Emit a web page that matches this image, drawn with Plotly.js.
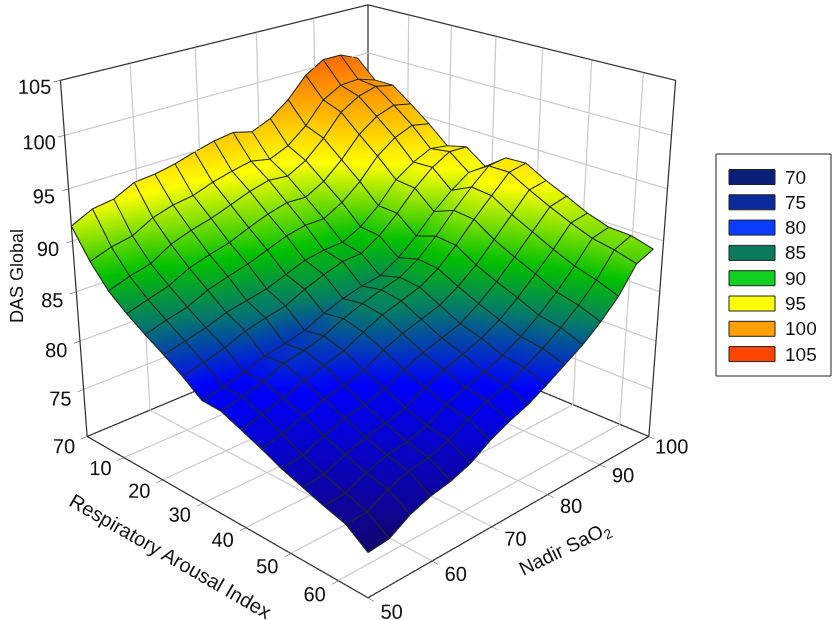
<!DOCTYPE html>
<html><head><meta charset="utf-8">
<script src="https://cdn.plot.ly/plotly-3.0.1.min.js"></script>
<style>html,body{margin:0;padding:0;background:#fff;overflow:hidden;width:832px;height:620px}
#wrap{position:relative;width:832px;height:620px;overflow:hidden}
#chart{position:absolute;left:0;top:-421px}</style></head>
<body><div id="wrap"><div id="chart"></div></div>
<script>
const nadirSaO2 = [50,53.2,56.4,59.6,62.8,66,69.2,72.4,75.6,78.8,82,85.2,88.4,91.6,94.8,98];
const arousalIndex = [0,4.4,8.8,13.2,17.6,22,26.4,30.8,35.2,39.6,44,48.4,52.8,57.2,61.6,66];
const dasGlobal = [
[91.4,92.4,92.7,93.7,93.9,94.3,94.9,95.4,95.7,95.2,96.0,97.4,99.4,100.5,100.5,99.7],
[88.7,89.4,89.8,90.9,91.5,91.8,92.5,93.0,93.4,93.0,93.8,95.3,97.4,98.4,98.5,97.9],
[86.6,87.3,87.8,89.0,89.7,90.2,90.9,91.6,92.1,91.9,92.9,94.6,96.7,97.8,98.3,97.9],
[85.2,85.8,86.4,87.4,88.0,88.5,89.3,90.0,90.5,90.4,91.4,93.0,95.0,96.3,96.9,96.5],
[84.0,84.6,85.1,86.0,86.6,87.1,87.8,88.5,88.9,88.9,89.9,91.4,93.4,94.7,95.4,95.0],
[82.9,83.4,83.9,84.6,85.0,85.4,86.1,86.8,87.1,87.2,88.1,89.6,91.6,92.8,93.6,93.3],
[81.7,82.2,82.8,83.6,84.1,84.5,85.4,86.1,86.7,86.8,87.9,89.5,91.4,92.9,93.9,93.8],
[80.3,80.7,81.3,82.0,82.4,82.9,83.8,84.5,85.0,85.3,86.4,87.9,89.7,91.2,92.4,92.4],
[80.2,80.7,81.3,82.2,82.6,83.2,84.1,84.8,85.4,85.9,87.0,88.6,90.5,92.2,93.7,93.9],
[79.4,79.9,80.6,81.4,82.0,82.6,83.6,84.5,85.1,85.7,86.8,88.4,90.3,92.0,93.7,94.0],
[78.6,79.0,79.8,80.5,81.0,81.6,82.7,83.5,84.1,84.7,85.8,87.2,89.0,90.8,92.6,92.9],
[77.7,78.0,78.9,79.7,80.0,80.7,81.7,82.5,83.1,83.7,84.9,86.3,88.0,89.8,91.6,92.0],
[77.0,77.2,78.1,78.8,79.2,79.8,80.9,81.7,82.4,83.1,84.1,85.5,87.1,88.8,90.7,91.0],
[76.3,76.5,77.4,78.1,78.4,79.0,80.1,80.9,81.5,82.3,83.3,84.6,86.1,87.9,89.9,90.3],
[75.7,75.8,76.9,77.6,77.9,78.6,79.7,80.5,81.1,82.0,83.0,84.2,85.6,87.3,89.5,90.2],
[74.2,74.4,75.6,76.3,76.7,77.4,78.6,79.5,80.2,81.2,82.3,83.4,84.8,86.5,88.9,89.6]
];
const legendLabels = ['70','75','80','85','90','95','100','105'];
const legendColors = ['#0a1f78','#0a2a9c','#0a3cff','#0a7a5a','#10d020','#ffff00','#ff9f00','#ff4500'];
const colorStops = [[0,'#14055e'],[0.114,'#14056e'],[0.314,'#0000ff'],[0.414,'#057a6a'],[0.5,'#00c000'],[0.65,'#ffff00'],[0.8,'#ff9900'],[0.93,'#ff4800'],[1,'#ff3000']];
const nadirTicks = [50,60,70,80,90,100];
const arousalTicks = [10,20,30,40,50,60];
const dasTicks = [70,75,80,85,90,95,100,105];
const xR=[50,100], yR=[0,66], zR=[70,105];
const H=1375, TOP=421;
const px=x=>x/832, py=y=>1-(y+TOP)/H;

const surface = {
  type:'surface', x:nadirSaO2, y:arousalIndex, z:dasGlobal,
  cmin:70, cmax:105, colorscale:colorStops, showscale:false,
  lighting:{ambient:1,diffuse:0,specular:0,roughness:1,fresnel:0},
  hoverinfo:'skip'
};
const wx=[],wy=[],wz=[];
arousalIndex.forEach((a,i)=>{nadirSaO2.forEach((n,j)=>{wx.push(n);wy.push(a);wz.push(dasGlobal[i][j]+0.04);});wx.push(null);wy.push(null);wz.push(null);});
nadirSaO2.forEach((n,j)=>{arousalIndex.forEach((a,i)=>{wx.push(n);wy.push(a);wz.push(dasGlobal[i][j]+0.04);});wx.push(null);wy.push(null);wz.push(null);});
const wire={type:'scatter3d',mode:'lines',hoverinfo:'skip',showlegend:false,x:wx,y:wy,z:wz,line:{color:'#20281a',width:2.2}};
const gx=[],gy=[],gz=[];
function seg(a,b){gx.push(a[0],b[0],null);gy.push(a[1],b[1],null);gz.push(a[2],b[2],null);}
nadirTicks.slice(1,-1).forEach(n=>{seg([n,yR[0],zR[0]],[n,yR[0],zR[1]]);seg([n,yR[0],zR[0]],[n,yR[1],zR[0]]);});
arousalTicks.forEach(a=>{seg([xR[1],a,zR[0]],[xR[1],a,zR[1]]);seg([xR[0],a,zR[0]],[xR[1],a,zR[0]]);});
dasTicks.slice(1,-1).forEach(z=>{seg([xR[0],yR[0],z],[xR[1],yR[0],z]);seg([xR[1],yR[0],z],[xR[1],yR[1],z]);});
const grid={type:'scatter3d',mode:'lines',hoverinfo:'skip',showlegend:false,x:gx,y:gy,z:gz,line:{color:'#cccccc',width:2.5}};
const box = {
  type:'scatter3d', mode:'lines', hoverinfo:'skip', showlegend:false,
  x:[xR[0],xR[0],xR[1],xR[1],xR[0],null,xR[0],xR[0],xR[1],xR[1],xR[1],null,xR[1],xR[1]],
  y:[yR[0],yR[1],yR[1],yR[0],yR[0],null,yR[0],yR[0],yR[0],yR[1],yR[1],null,yR[0],yR[0]],
  z:[zR[0],zR[0],zR[0],zR[0],zR[0],null,zR[0],zR[1],zR[1],zR[1],zR[0],null,zR[0],zR[1]],
  line:{color:'#333',width:2.5}
};
const fam='Liberation Sans, Arial, sans-serif';
const tickFont={family:fam,size:15.5,color:'#111'};
const textFont={family:fam,size:19,color:'#111'};
function ax(range,vals){return {
  title:{text:''},
  range:range,tickmode:'array',tickvals:vals,ticktext:vals.map(String),tickfont:tickFont,tickangle:0,
  showgrid:false,showbackground:false,showline:false,zeroline:false,
  ticks:'outside',ticklen:6,tickcolor:'#333',showspikes:false};}
const shapes=[{type:'rect',xref:'paper',yref:'paper',x0:px(716),x1:px(831),y0:py(376),y1:py(154),line:{color:'#222',width:1},fillcolor:'#fff'}];
const anno=(x,y,text,angle,size)=>({xref:'paper',yref:'paper',x:px(x),y:py(y),xanchor:'center',yanchor:'middle',text,textangle:angle,showarrow:false,font:{family:fam,size,color:'#111'}});
const annotations=[
 anno(17,276,'DAS Global',-90,18),
 anno(170,556,'Respiratory Arousal Index',30,20),
 anno(565,550,'Nadir SaO<sub>2</sub>',-26,19.5)
];
legendLabels.forEach((t,k)=>{
  const c=177+k*25.3;
  shapes.push({type:'rect',xref:'paper',yref:'paper',x0:px(729),x1:px(775),y0:py(c+7.5),y1:py(c-7.5),line:{color:'#222',width:1},fillcolor:legendColors[k]});
  annotations.push({xref:'paper',yref:'paper',x:px(783),y:py(c),xanchor:'left',yanchor:'middle',text:t,showarrow:false,font:textFont});
});
const layout={
  width:832,height:H,margin:{l:0,r:0,t:0,b:0},paper_bgcolor:'#fff',showlegend:false,shapes,annotations,
  scene:{
    domain:{x:[0,0.885],y:[0,1]},
    xaxis:ax([49.98,100.02],nadirTicks),
    yaxis:ax([66.02,-0.02],arousalTicks),
    zaxis:ax([69.98,105.02],dasTicks),
    aspectmode:'manual',aspectratio:{x:1,y:1,z:0.93},
    camera:{eye:{x:-2.60,y:-2.60,z:1.56},center:{x:0,y:0,z:0},up:{x:0,y:0,z:1}}
  }
};
Plotly.newPlot('chart',[surface,wire,grid,box],layout,{displayModeBar:false});
</script></body></html>
